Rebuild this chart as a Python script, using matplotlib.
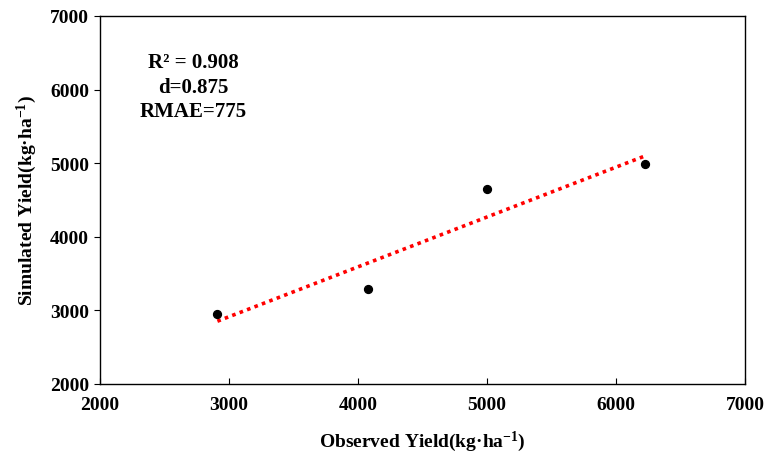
import numpy as np
import matplotlib.pyplot as plt

# observed vs simulated yield (kg/ha)
observed = [2910, 4078, 5000, 6225]
simulated = [2946, 3284, 4649, 4986]
stats_text = "R² = 0.908\nd=0.875\nRMAE=775"

plt.rcParams['font.family'] = ['Liberation Serif', 'DejaVu Serif']
plt.rcParams['font.weight'] = 'bold'
plt.rcParams['mathtext.fontset'] = 'custom'
plt.rcParams['mathtext.rm'] = 'Liberation Serif:bold'
plt.rcParams['mathtext.bf'] = 'Liberation Serif:bold'
plt.rcParams['mathtext.it'] = 'Liberation Serif:bold'

fig = plt.figure(figsize=(7.66, 4.56), dpi=100)
ax = fig.add_axes([100/766, 1-385/456, 645/766, 368/456])

ax.scatter(observed, simulated, s=32, color='black', zorder=3)

# linear trend line
k, b = np.polyfit(observed, simulated, 1)
xs = np.array([min(observed), max(observed)])
ax.plot(xs, k*xs + b, color='#ff0000', linestyle=(0, (1, 1.2)), linewidth=2.6)

ax.set_xlim(2000, 7000)
ax.set_ylim(2000, 7000)
ax.set_xticks(np.arange(2000, 7001, 1000))
ax.set_yticks(np.arange(2000, 7001, 1000))
ax.tick_params(axis='x', direction='in', length=4, labelsize=14, pad=9)
ax.tick_params(axis='y', direction='out', length=4, labelsize=14, pad=4)
for lab in ax.get_xticklabels() + ax.get_yticklabels():
    lab.set_fontweight('bold')
for sp in ax.spines.values():
    sp.set_linewidth(1.0)

ax.set_xlabel("Observed Yield(kg·ha$^{-1}$)", fontsize=14, fontweight='bold', labelpad=11)
ax.set_ylabel("Simulated Yield(kg·ha$^{-1}$)", fontsize=14, fontweight='bold', labelpad=8)

ax.text(0.145, 0.808, stats_text, transform=ax.transAxes, ha='center', va='center',
        fontsize=15, fontweight='bold', linespacing=1.3)

fig.savefig("out.png", dpi=100)
